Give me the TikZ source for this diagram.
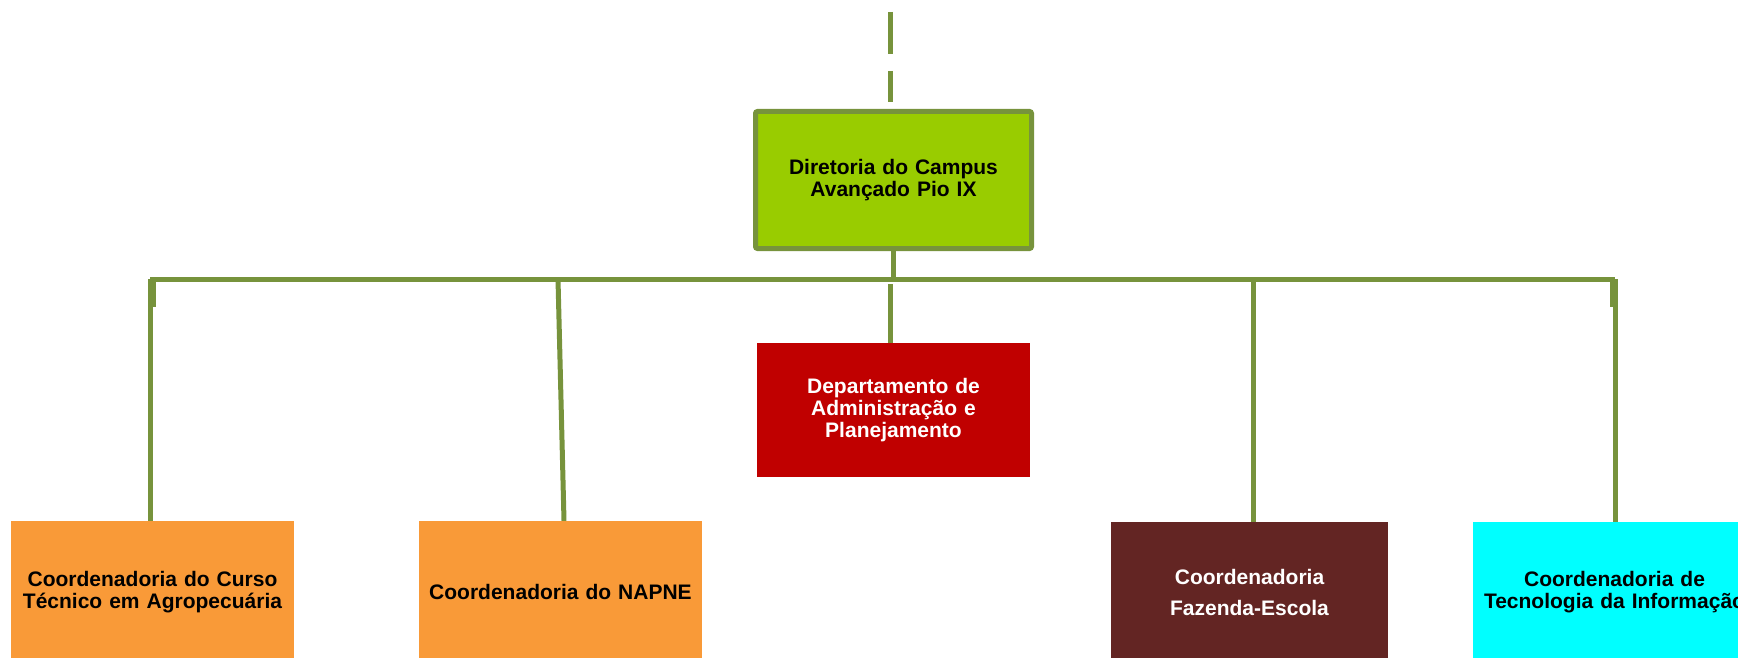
\documentclass[tikz,border=0pt]{standalone}
\usepackage{fontspec}
\setmainfont{Liberation Sans}
\definecolor{lineg}{HTML}{77933C}
\definecolor{dirgreen}{HTML}{99CC00}
\definecolor{dapred}{HTML}{C00000}
\definecolor{orangec}{HTML}{F99A38}
\definecolor{brownc}{HTML}{632523}
\definecolor{cyanc}{HTML}{00FFFF}
\begin{document}
\begin{tikzpicture}[x=1pt,y=-1pt,
  conn/.style={draw=lineg, line width=5pt},
  box/.style={rectangle, inner sep=0pt, align=center, text width=270pt,
    font=\bfseries\fontsize{21}{22}\selectfont},
]
\useasboundingbox (0,0) rectangle (1738,658);
\clip (0,0) rectangle (1738,658);

\node[box, fill=dirgreen, draw=lineg, line width=5pt, rounded corners=2pt,
  minimum width=276pt, minimum height=137pt] (dir) at (893.5,180)
  {Diretoria do Campus\\Avançado Pio IX};
\node[box, fill=dapred, text=white, minimum width=273pt, minimum height=134pt]
  (dap) at (893.5,410) {Departamento de\\Administração e\\Planejamento};
\node[box, fill=orangec, minimum width=283pt, minimum height=142pt]
  (c1) at (152.5,592) {Coordenadoria do Curso\\Técnico em Agropecuária};
\node[box, fill=orangec, minimum width=283pt, minimum height=142pt]
  (c2) at (560.5,592) {Coordenadoria do NAPNE};
\node[box, fill=brownc, text=white, minimum width=277pt, minimum height=140pt,
  font=\bfseries\fontsize{21}{31}\selectfont]
  (c3) at (1249.5,592) {Coordenadoria\\Fazenda-Escola};
\node[box, fill=cyanc, minimum width=283pt, minimum height=140pt]
  (c4) at (1614.5,592) {Coordenadoria de\\Tecnologia da Informação};

\coordinate (dtop) at (890,12);
\coordinate (dend) at (890,102);
\coordinate (busL) at (150,279);
\coordinate (busR) at (1615,279);
\coordinate (nT) at (558,279);
\coordinate (fz) at (1253,279);
\coordinate (dapT) at (890,284);

\draw[conn, dash pattern=on 42pt off 17pt] (dtop) -- (dend);
\draw[conn] (dir.south) -- (dir.south |- busL);
\draw[conn] (busL) -- (busR);
\draw[conn] (busL) -- (busL |- c1.north);
\draw[conn] ([xshift=3pt]busL) -- ++(0,28);
\draw[conn] (nT) -- ([xshift=3.5pt]c2.north);
\draw[conn] (fz) -- (fz |- c3.north);
\draw[conn] (busR) -- (busR |- c4.north);
\draw[conn] ([xshift=-3pt]busR) -- ++(0,28);
\draw[conn] (dapT) -- (dapT |- dap.north);
\end{tikzpicture}
\end{document}
